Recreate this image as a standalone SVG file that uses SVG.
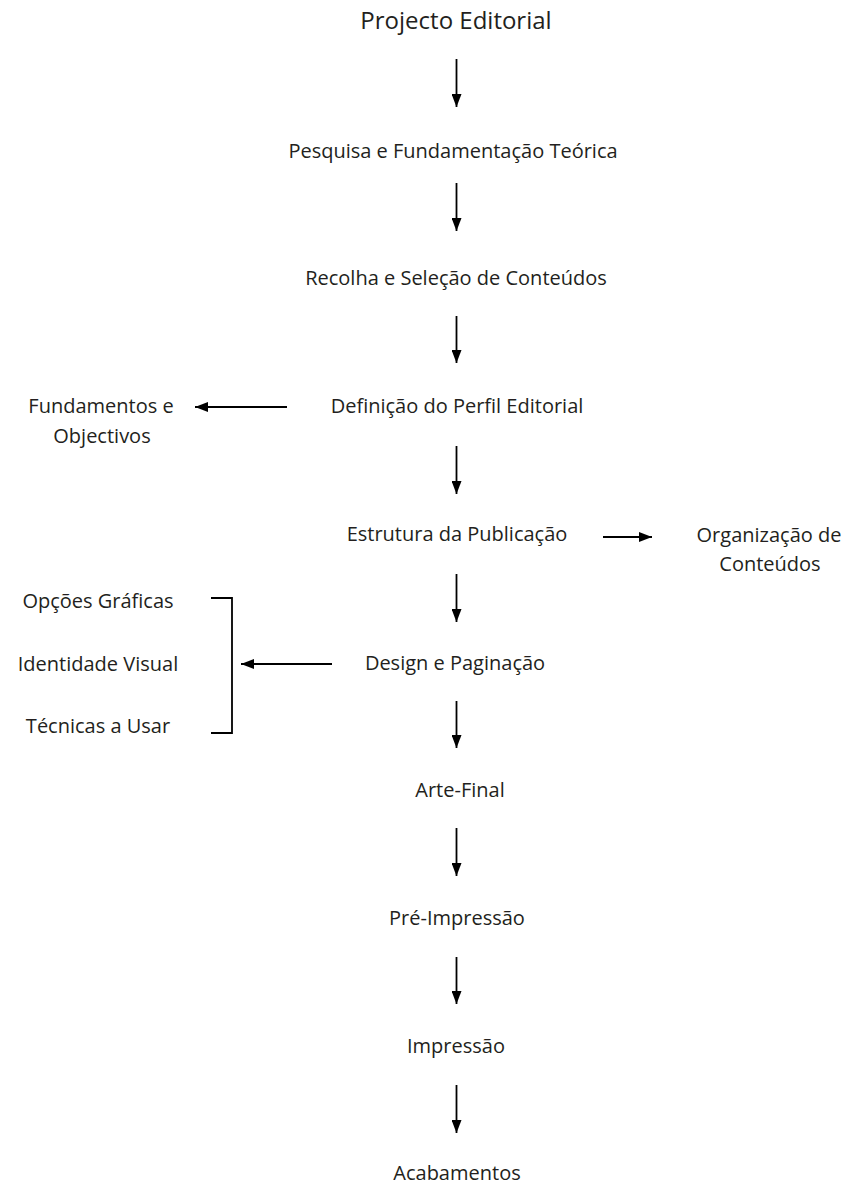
<svg xmlns="http://www.w3.org/2000/svg" width="851" height="1185" viewBox="0 0 851 1185">
<style>
text{font-family:"Open Sans","Noto Sans","DejaVu Sans",sans-serif;font-size:20px;fill:#231f20;text-anchor:middle}
.title{font-size:24px}
.c{stroke:#000;stroke-width:1.8;fill:none}
</style>
<defs>
<marker id="ah" markerUnits="userSpaceOnUse" markerWidth="13" markerHeight="10" refX="13" refY="5" orient="auto">
<path d="M0,0 L13,5 L0,10 z" fill="#000"/>
</marker>
</defs>
<rect width="851" height="1185" fill="#fff"/>
<g id="n-projecto"><text class="title" x="456" y="29">Projecto Editorial</text></g>
<g id="n-pesquisa"><text x="453" y="158">Pesquisa e Fundamentação Teórica</text></g>
<g id="n-recolha"><text x="456" y="285">Recolha e Seleção de Conteúdos</text></g>
<g id="n-definicao"><text x="457" y="413">Definição do Perfil Editorial</text></g>
<g id="n-fundamentos"><text x="101" y="413">Fundamentos e</text><text x="102" y="443">Objectivos</text></g>
<g id="n-estrutura"><text x="457" y="541">Estrutura da Publicação</text></g>
<g id="n-organizacao"><text x="769" y="542">Organização de</text><text x="770" y="571">Conteúdos</text></g>
<g id="n-design"><text x="455" y="670">Design e Paginação</text></g>
<g id="n-opcoes"><text x="98" y="608">Opções Gráficas</text></g>
<g id="n-identidade"><text x="98" y="671">Identidade Visual</text></g>
<g id="n-tecnicas"><text x="98" y="733">Técnicas a Usar</text></g>
<g id="n-arte"><text x="460" y="797">Arte-Final</text></g>
<g id="n-pre"><text x="457" y="925">Pré-Impressão</text></g>
<g id="n-impressao"><text x="456" y="1053">Impressão</text></g>
<g id="n-acabamentos"><text x="457" y="1180">Acabamentos</text></g>
<g id="connectors" class="c">
<line x1="456.5" y1="59" x2="456.5" y2="107" marker-end="url(#ah)"/>
<line x1="456.5" y1="183" x2="456.5" y2="231" marker-end="url(#ah)"/>
<line x1="456.5" y1="316" x2="456.5" y2="363" marker-end="url(#ah)"/>
<line x1="456.5" y1="446" x2="456.5" y2="494" marker-end="url(#ah)"/>
<line x1="456.5" y1="574" x2="456.5" y2="622" marker-end="url(#ah)"/>
<line x1="456.5" y1="701" x2="456.5" y2="748" marker-end="url(#ah)"/>
<line x1="456.5" y1="828" x2="456.5" y2="876" marker-end="url(#ah)"/>
<line x1="456.5" y1="957" x2="456.5" y2="1004" marker-end="url(#ah)"/>
<line x1="456.5" y1="1085" x2="456.5" y2="1133" marker-end="url(#ah)"/>
<line x1="287" y1="407" x2="195" y2="407" marker-end="url(#ah)"/>
<line x1="603" y1="537" x2="652" y2="537" marker-end="url(#ah)"/>
<line x1="332" y1="664" x2="241" y2="664" marker-end="url(#ah)"/>
<polyline points="211,598 232,598 232,733 211,733"/>
</g>
</svg>
